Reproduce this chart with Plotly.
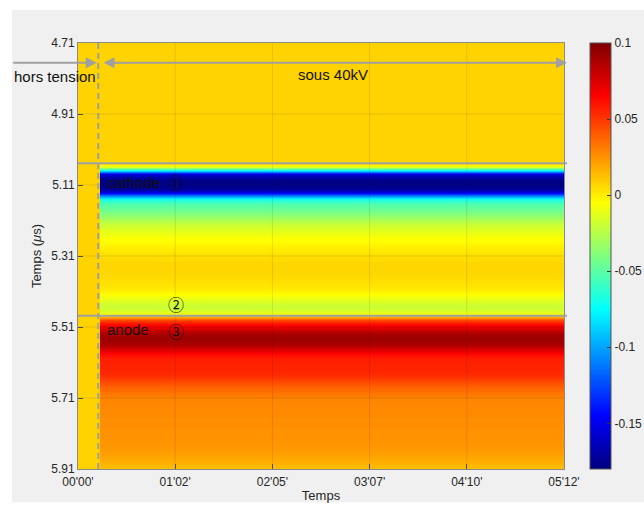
import plotly.graph_objects as go

# ---------------- data ----------------
# delay axis (µs), one row every 0.01 µs from 4.71 to 5.91
delay_us = [round(4.71 + 0.01 * i, 2) for i in range(121)]

# signal profile under 40 kV (top to bottom)
profile_40kV = [
    0.007, 0.007, 0.007, 0.007, 0.007, 0.007, 0.007, 0.007, 0.007, 0.007,   # 4.71-4.80
    0.007, 0.007, 0.007, 0.007, 0.007, 0.007, 0.007, 0.007, 0.007, 0.007,   # 4.81-4.90
    0.007, 0.007, 0.007, 0.007, 0.007, 0.007, 0.007, 0.007, 0.007, 0.007,   # 4.91-5.00
    0.007, 0.007, 0.007, 0.007, 0.004, -0.015, -0.09, -0.155, -0.172, -0.178,  # 5.01-5.10
    -0.178, -0.174, -0.155, -0.105, -0.07, -0.055, -0.05, -0.045, -0.04, -0.033,  # 5.11-5.20
    -0.026, -0.02, -0.016, -0.012, -0.009, -0.006, -0.004, -0.002, 0.0, 0.002,  # 5.21-5.30
    0.004, 0.005, 0.006, 0.006, 0.006, 0.006, 0.005, 0.004, 0.003, 0.001,   # 5.31-5.40
    -0.002, -0.006, -0.011, -0.016, -0.019, -0.018, -0.012, 0.01, 0.045, 0.058,  # 5.41-5.50
    0.07, 0.082, 0.089, 0.092, 0.091, 0.087, 0.079, 0.069, 0.061, 0.057,    # 5.51-5.60
    0.056, 0.055, 0.055, 0.054, 0.051, 0.047, 0.042, 0.038, 0.035, 0.032,   # 5.61-5.70
    0.029, 0.028, 0.028, 0.027, 0.027, 0.027, 0.026, 0.026, 0.026, 0.025,   # 5.71-5.80
    0.025, 0.025, 0.024, 0.024, 0.023, 0.022, 0.021, 0.019, 0.017, 0.015,   # 5.81-5.90
    0.012,                                                                  # 5.91
]

# signal level without voltage ("hors tension")
background_level = 0.007

# time columns (s): before switching on, switching instant, end of record
time_columns = [0.0, 13.9, 14.1, 312.0]
voltage_on_s = 13.0

x_tick_vals = [0.0, 62.4, 124.8, 187.2, 249.6, 312.0]
x_tick_text = ["00'00'", "01'02'", "02'05'", "03'07'", "04'10'", "05'12'"]
y_tick_vals = [4.71, 4.91, 5.11, 5.31, 5.51, 5.71, 5.91]
y_tick_text = ["4.71", "4.91", "5.11", "5.31", "5.51", "5.71", "5.91"]
cb_tick_vals = [0.1, 0.05, 0.0, -0.05, -0.1, -0.15]
cb_tick_text = ["0.1", "0.05", "0", "-0.05", "-0.1", "-0.15"]

cathode_delay = 5.049
anode_delay = 5.478

# ---------------- figure ----------------
z = [[background_level, background_level, p, p] for p in profile_40kV]

jet = [
    [0.0, "rgb(0,0,128)"],
    [0.125, "rgb(0,0,255)"],
    [0.375, "rgb(0,255,255)"],
    [0.625, "rgb(255,255,0)"],
    [0.875, "rgb(255,0,0)"],
    [1.0, "rgb(128,0,0)"],
]

FONT = "Liberation Sans, Arial, Helvetica, sans-serif"
TXT = "#262626"

fig = go.Figure()
fig.add_trace(go.Heatmap(
    x=time_columns, y=delay_us, z=z,
    colorscale=jet, zmin=-0.18, zmax=0.1, zsmooth="best",
    colorbar=dict(
        x=(590 - 78) / 486, xanchor="left", xpad=0, ypad=0,
        y=0.5, yanchor="middle", len=1.0,
        thickness=21, outlinewidth=1, outlinecolor="#555555",
        ticks="inside", ticklen=4, tickcolor="#333333",
        tickvals=cb_tick_vals, ticktext=cb_tick_text,
        tickfont=dict(family=FONT, size=12, color=TXT),
    ),
    hoverinfo="skip",
))

shapes = []
# light grey figure panel
shapes.append(dict(type="rect", xref="paper", yref="paper",
                   x0=-0.1358, x1=1.17, y0=-0.078, y1=1.0775,
                   fillcolor="#F0F0F0", line=dict(width=0), layer="below"))
# faint grid lines
for xv in x_tick_vals[1:-1]:
    shapes.append(dict(type="line", xref="x", yref="paper", x0=xv, x1=xv, y0=0, y1=1,
                       line=dict(color="rgba(0,0,0,0.10)", width=1)))
for yv in y_tick_vals[1:-1]:
    shapes.append(dict(type="line", xref="paper", yref="y", x0=0, x1=1, y0=yv, y1=yv,
                       line=dict(color="rgba(0,0,0,0.10)", width=1)))
# electrode lines
for yv in [cathode_delay, anode_delay]:
    shapes.append(dict(type="line", xref="paper", yref="y", x0=0, x1=1.006, y0=yv, y1=yv,
                       line=dict(color="#A0A0A0", width=2)))
# switching-on dashed line
shapes.append(dict(type="line", xref="x", yref="paper", x0=voltage_on_s, x1=voltage_on_s,
                   y0=0, y1=1, line=dict(color="#A0A0A0", width=2, dash="6px,4px")))

ann_font = dict(family=FONT, size=15, color="#111111")
circ_font = dict(family="Noto Sans CJK JP, DejaVu Sans, sans-serif", size=16, color="#111111")
annotations = [
    # hors tension arrow
    dict(xref="paper", yref="paper", x=(96.7 - 78) / 486, y=0.9538, ax=-85, ay=0,
         text="", showarrow=True, arrowhead=2, arrowsize=1.1, arrowwidth=2,
         arrowcolor="#A0A0A0"),
    # sous 40 kV double arrow
    dict(xref="paper", yref="paper", x=(567 - 78) / 486, y=0.9538, ax=-465, ay=0,
         text="", showarrow=True, arrowhead=2, startarrowhead=2, arrowside="end+start",
         arrowsize=1.1, startarrowsize=1.1, arrowwidth=2, arrowcolor="#A0A0A0"),
    dict(xref="paper", yref="y", x=-0.047, y=4.805, text="hors tension", showarrow=False,
         font=ann_font, xanchor="center", yanchor="middle"),
    dict(xref="x", yref="y", x=163.7, y=4.80, text="sous 40kV", showarrow=False,
         font=ann_font, xanchor="center", yanchor="middle"),
    dict(xref="x", yref="y", x=17.5, y=5.1016, text="cathode", showarrow=False,
         font=ann_font, xanchor="left", yanchor="middle"),
    dict(xref="x", yref="y", x=63.0, y=5.1016, text="①", showarrow=False,
         font=circ_font, xanchor="center", yanchor="middle"),
    dict(xref="x", yref="y", x=63.0, y=5.445, text="②", showarrow=False,
         font=circ_font, xanchor="center", yanchor="middle"),
    dict(xref="x", yref="y", x=17.5, y=5.5157, text="anode", showarrow=False,
         font=ann_font, xanchor="left", yanchor="middle"),
    dict(xref="x", yref="y", x=63.0, y=5.521, text="③", showarrow=False,
         font=circ_font, xanchor="center", yanchor="middle"),
]

fig.update_layout(
    width=644, height=509,
    margin=dict(l=78, r=80, t=43, b=40, autoexpand=False),
    paper_bgcolor="white", plot_bgcolor="#F0F0F0",
    font=dict(family=FONT, size=12, color=TXT),
    shapes=shapes, annotations=annotations,
    showlegend=False,
)
fig.update_xaxes(
    range=[0, 312], tickvals=x_tick_vals, ticktext=x_tick_text,
    ticks="inside", ticklen=5, tickcolor="#555555", ticklabelstandoff=2,
    showline=True, mirror=True, linecolor="#8A8A8A", linewidth=1,
    showgrid=False, zeroline=False, automargin=False,
    tickfont=dict(family=FONT, size=12, color=TXT),
    title=dict(text="Temps", font=dict(family=FONT, size=13, color=TXT), standoff=2),
)
fig.update_yaxes(
    range=[5.91, 4.71], tickvals=y_tick_vals, ticktext=y_tick_text,
    ticks="inside", ticklen=5, tickcolor="#555555",
    showline=True, mirror=True, linecolor="#8A8A8A", linewidth=1,
    showgrid=False, zeroline=False, automargin=False,
    tickfont=dict(family=FONT, size=12, color=TXT),
    title=dict(text="Temps (<i>μ</i>s)", font=dict(family=FONT, size=13, color=TXT), standoff=6),
)

fig.write_html("out.html", config={"displayModeBar": False},
               post_script="document.body.style.margin='0px';")
